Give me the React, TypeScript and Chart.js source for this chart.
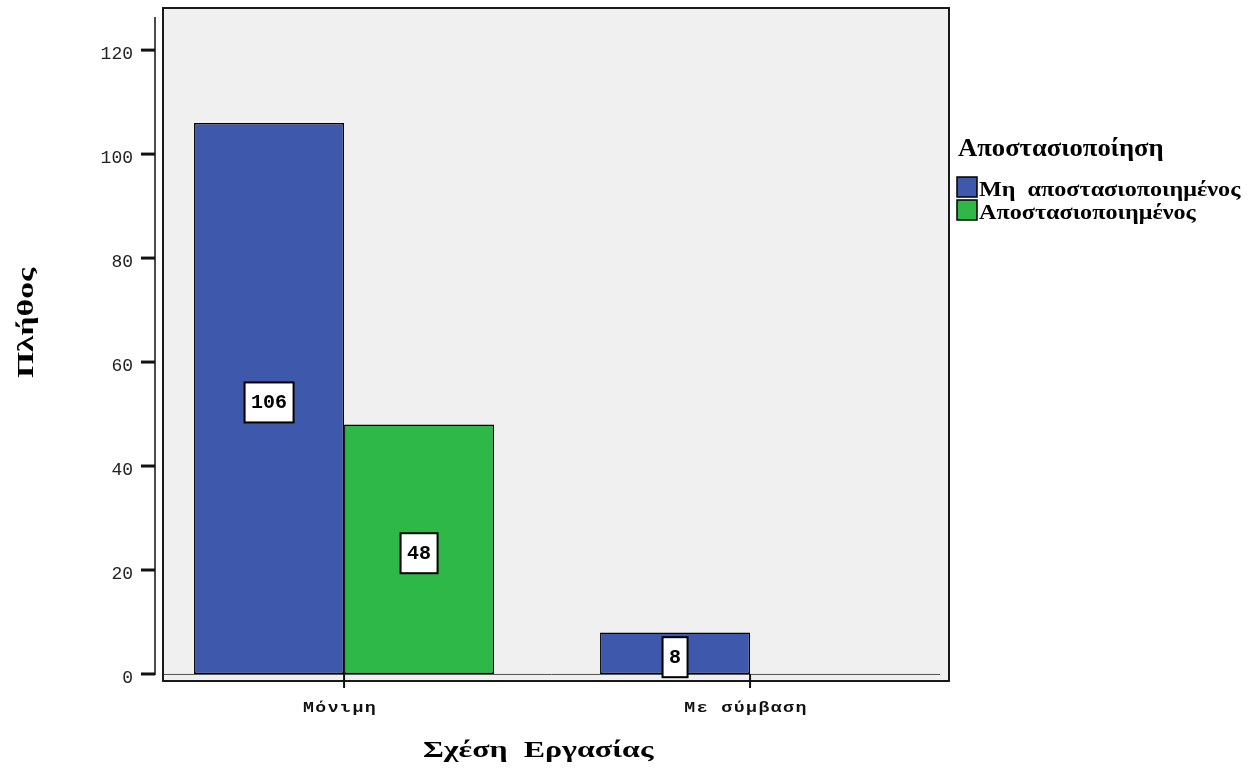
import { useEffect, useRef } from 'react';
import { Chart, registerables } from 'chart.js';

Chart.register(...registerables);

// Employment relationship categories and counts per detachment status
const categories = ['Μόνιμη', 'Με σύμβαση'];
const seriesNames = ['Μη  αποστασιοποιημένος', 'Αποστασιοποιημένος'];
const notDetachedCounts = [106, 8];
const detachedCounts = [48, 0];
const yTickValues = [0, 20, 40, 60, 80, 100, 120];

const legendTitle = 'Αποστασιοποίηση';
const xAxisTitle = 'Σχέση  Εργασίας';
const yAxisTitle = 'Πλήθος';

const seriesColors = ['#3e58ac', '#2eb848'];

const WIDTH = 1248;
const HEIGHT = 776;
const PLOT = { left: 163, top: 8, right: 949, bottom: 681 };

const MONO = '"Liberation Mono", "DejaVu Sans Mono", monospace';
const SERIF = '"Liberation Serif", "DejaVu Serif", serif';

// Draws text stretched horizontally by sx, anchored at (x, y) with the given alignment
function wideText(ctx: CanvasRenderingContext2D, text: string, x: number, y: number, sx: number, align: CanvasTextAlign) {
  ctx.save();
  ctx.translate(x, y);
  ctx.scale(sx, 1);
  ctx.textAlign = align;
  ctx.fillText(text, 0, 0);
  ctx.restore();
}

const decorations = {
  id: 'decorations',
  beforeDraw(chart: any) {
    const { ctx, chartArea: a } = chart;
    ctx.save();
    ctx.fillStyle = '#f0f0f0';
    ctx.fillRect(a.left, a.top, a.right - a.left, a.bottom - a.top);
    ctx.restore();
  },
  beforeDatasetsDraw(chart: any) {
    const { ctx, chartArea: a } = chart;
    const y0 = chart.scales.y.getPixelForValue(0);
    ctx.save();
    ctx.strokeStyle = '#555';
    ctx.lineWidth = 1;
    ctx.beginPath();
    ctx.moveTo(a.left, y0 + 0.5);
    ctx.lineTo(a.right - 9, y0 + 0.5);
    ctx.stroke();
    ctx.restore();
  },
  afterDatasetsDraw(chart: any) {
    const { ctx, chartArea: a } = chart;
    const ys = chart.scales.y;
    const xs = chart.scales.x;
    const y0 = ys.getPixelForValue(0);
    ctx.save();

    // plot frame
    ctx.strokeStyle = '#1a1a1a';
    ctx.lineWidth = 2;
    ctx.strokeRect(a.left, a.top, a.right - a.left, a.bottom - a.top);

    // detached value axis with its tick marks
    const ax = a.left - 8;
    ctx.strokeStyle = '#111';
    ctx.lineWidth = 1.5;
    ctx.beginPath();
    ctx.moveTo(ax, a.top + 9);
    ctx.lineTo(ax, y0 + 1);
    ctx.stroke();
    ctx.lineWidth = 3;
    yTickValues.forEach((v) => {
      const y = ys.getPixelForValue(v);
      ctx.beginPath();
      ctx.moveTo(ax - 14, y);
      ctx.lineTo(ax, y);
      ctx.stroke();
    });

    // category tick marks
    ctx.lineWidth = 2;
    categories.forEach((_, i) => {
      const x = xs.getPixelForValue(i);
      ctx.beginPath();
      ctx.moveTo(x, y0);
      ctx.lineTo(x, a.bottom + 7);
      ctx.stroke();
    });

    // value boxes in the middle of each bar
    ctx.font = `bold 20px ${MONO}`;
    ctx.textAlign = 'center';
    ctx.textBaseline = 'middle';
    chart.data.datasets.forEach((ds: any, di: number) => {
      const meta = chart.getDatasetMeta(di);
      meta.data.forEach((bar: any, i: number) => {
        const v = ds.data[i].y;
        if (!v) return;
        const text = String(v);
        const w = ctx.measureText(text).width + 13;
        const h = 40;
        const cx = bar.x;
        const cy = (bar.y + bar.base) / 2 + 4;
        ctx.fillStyle = '#fff';
        ctx.fillRect(cx - w / 2, cy - h / 2, w, h);
        ctx.strokeStyle = '#000';
        ctx.lineWidth = 2;
        ctx.strokeRect(cx - w / 2, cy - h / 2, w, h);
        ctx.fillStyle = '#000';
        ctx.fillText(text, cx, cy + 1);
      });
    });
    ctx.restore();
  },
  afterDraw(chart: any) {
    const { ctx, chartArea: a } = chart;
    const xs = chart.scales.x;
    ctx.save();

    // category labels (wide, lightly spaced monospace)
    ctx.fillStyle = '#111';
    ctx.font = `bold 14px ${MONO}`;
    ctx.textBaseline = 'alphabetic';
    (ctx as any).letterSpacing = '1.1px';
    categories.forEach((c, i) => {
      wideText(ctx, c, xs.getPixelForValue(i) - 4, a.bottom + 31, 1.3, 'center');
    });
    (ctx as any).letterSpacing = '0px';

    // axis titles
    ctx.fillStyle = '#000';
    ctx.font = `bold 24px ${SERIF}`;
    wideText(ctx, xAxisTitle, 423, 757, 1.33, 'left');
    ctx.save();
    ctx.translate(33, 323);
    ctx.rotate(-Math.PI / 2);
    wideText(ctx, yAxisTitle, 0, 0, 1.4, 'center');
    ctx.restore();

    // legend
    ctx.font = `bold 25px ${SERIF}`;
    wideText(ctx, legendTitle, 958, 156, 1.065, 'left');
    ctx.font = `bold 21px ${SERIF}`;
    seriesNames.forEach((name, i) => {
      const top = 177 + i * 23;
      ctx.fillStyle = seriesColors[i];
      ctx.fillRect(957, top, 20, 20);
      ctx.strokeStyle = '#000';
      ctx.lineWidth = 1.5;
      ctx.strokeRect(957, top, 20, 20);
      ctx.fillStyle = '#000';
      wideText(ctx, name, 979, top + 19, 1.15, 'left');
    });
    ctx.restore();
  },
};

export default function App() {
  const canvasRef = useRef<HTMLCanvasElement | null>(null);

  useEffect(() => {
    document.body.style.margin = '0';
    const canvas = canvasRef.current;
    if (!canvas) return;

    const series = [notDetachedCounts, detachedCounts];
    const chart = new Chart(canvas, {
      type: 'bar',
      data: {
        datasets: series.map((values, si) => ({
          label: seriesNames[si],
          data: values.map((v, i) => ({ x: i, y: v })),
          backgroundColor: seriesColors[si],
          borderColor: '#000',
          borderWidth: 1.5,
          borderSkipped: false,
          categoryPercentage: 0.739,
          barPercentage: 1,
        })),
      },
      options: {
        responsive: false,
        animation: false,
        layout: {
          autoPadding: false,
          padding: { left: 0, top: PLOT.top, right: WIDTH - PLOT.right, bottom: 0 },
        },
        plugins: {
          legend: { display: false },
          tooltip: { enabled: false },
        },
        scales: {
          x: {
            type: 'linear',
            offset: false,
            min: -0.446,
            max: 1.49,
            afterBuildTicks: (s: any) => {
              s.ticks = categories.map((_, i) => ({ value: i }));
            },
            afterFit: (s: any) => {
              s.height = HEIGHT - PLOT.bottom;
              s.paddingLeft = 0;
              s.paddingRight = 0;
            },
            ticks: { display: false },
            grid: { display: false, drawTicks: false },
            border: { display: false },
          },
          y: {
            min: -1.35,
            max: 128.1,
            afterBuildTicks: (s: any) => {
              s.ticks = yTickValues.map((v) => ({ value: v }));
            },
            afterFit: (s: any) => {
              s.width = PLOT.left;
              s.paddingTop = 0;
              s.paddingBottom = 0;
            },
            ticks: {
              font: { family: MONO, size: 18 },
              color: '#222',
              padding: 30,
              labelOffset: 4,
            },
            grid: { display: false, drawTicks: false },
            border: { display: false },
          },
        },
      } as any,
      plugins: [decorations],
    });

    return () => chart.destroy();
  }, []);

  return (
    <div style={{ width: WIDTH, height: HEIGHT }}>
      <canvas ref={canvasRef} width={WIDTH} height={HEIGHT} />
    </div>
  );
}
